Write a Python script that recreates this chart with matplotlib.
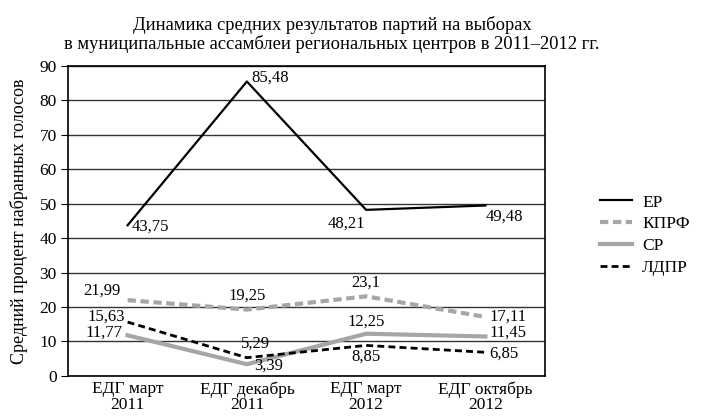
import matplotlib.pyplot as plt
import numpy as np

plt.rcParams['font.family'] = ['Liberation Serif', 'DejaVu Serif']
plt.rcParams['font.size'] = 12.5

categories = ['ЕДГ март\n2011', 'ЕДГ декабрь\n2011', 'ЕДГ март\n2012', 'ЕДГ октябрь\n2012']
er = [43.75, 85.48, 48.21, 49.48]
kprf = [21.99, 19.25, 23.1, 17.11]
sr = [11.77, 3.39, 12.25, 11.45]
ldpr = [15.63, 5.29, 8.85, 6.85]

x = np.arange(len(categories))

fig = plt.figure(figsize=(7.11, 4.2), dpi=100)
ax = fig.add_axes([0.0956, 0.105, 0.671, 0.738])

ax.plot(x, er, '-', color='black', lw=1.6, label='ЕР')
ax.plot(x, kprf, '--', color='#a6a6a6', lw=3, dashes=(2, 1.1), label='КПРФ')
ax.plot(x, sr, '-', color='#a6a6a6', lw=3, label='СР')
ax.plot(x, ldpr, '--', color='black', lw=2, dashes=(2.5, 1.5), label='ЛДПР')

ax.set_xlim(-0.5, 3.5)
ax.set_ylim(0, 90)
ax.set_yticks(np.arange(0, 91, 10))
ax.set_xticks(x)
ax.set_xticklabels(categories, linespacing=0.95)
ax.tick_params(axis='x', length=0, pad=4)
ax.tick_params(axis='y', length=5, direction='out', pad=3)
ax.yaxis.grid(True, color='#333333', lw=1)
ax.set_axisbelow(True)
for s in ax.spines.values():
    s.set_color('black')
    s.set_linewidth(1.2)
ax.set_ylabel('Средний процент набранных голосов', fontsize=13, labelpad=8)

def lab(xi, yi, txt, dx, dy, ha, va):
    ax.annotate(txt, (xi, yi), xytext=(dx, dy), textcoords='offset points',
                ha=ha, va=va, fontsize=12)

fmt = lambda v: ('%g' % v).replace('.', ',')

# ЕР
lab(0, er[0], fmt(er[0]), 3, -1, 'left', 'center')
lab(1, er[1], fmt(er[1]), 3, 3, 'left', 'center')
lab(2, er[2], fmt(er[2]), -1, -4, 'right', 'top')
lab(3, er[3], fmt(er[3]), 0, -2, 'left', 'top')
# КПРФ
lab(0, kprf[0], fmt(kprf[0]), -5, 1, 'right', 'bottom')
lab(1, kprf[1], fmt(kprf[1]), 0, 4, 'center', 'bottom')
lab(2, kprf[2], fmt(kprf[2]), 0, 4, 'center', 'bottom')
lab(3, kprf[3], fmt(kprf[3]), 3, 0, 'left', 'center')
# СР
lab(0, sr[0], fmt(sr[0]), -4, 2, 'right', 'center')
lab(1, sr[1], fmt(sr[1]), 5, -1, 'left', 'center')
lab(2, sr[2], fmt(sr[2]), 0, 3, 'center', 'bottom')
lab(3, sr[3], fmt(sr[3]), 3, 3, 'left', 'center')
# ЛДПР
lab(0, ldpr[0], fmt(ldpr[0]), -2, 4, 'right', 'center')
lab(1, ldpr[1], fmt(ldpr[1]), 6, 4, 'center', 'bottom')
lab(2, ldpr[2], fmt(ldpr[2]), 0, -2, 'center', 'top')
lab(3, ldpr[3], fmt(ldpr[3]), 3, -1, 'left', 'center')

fig.text(0.467, 0.962, 'Динамика средних результатов партий на выборах\n'
         'в муниципальные ассамблеи региональных центров в 2011–2012 гг.',
         ha='center', va='top', fontsize=13.3, linespacing=1.05)

fig.legend(loc='center left', bbox_to_anchor=(591 / 711, 1 - 235 / 420),
           bbox_transform=fig.transFigure, frameon=False, borderpad=0,
           handlelength=1.85, handletextpad=0.6, labelspacing=0.32,
           fontsize=12.5)

fig.savefig('out.png', dpi=100)
